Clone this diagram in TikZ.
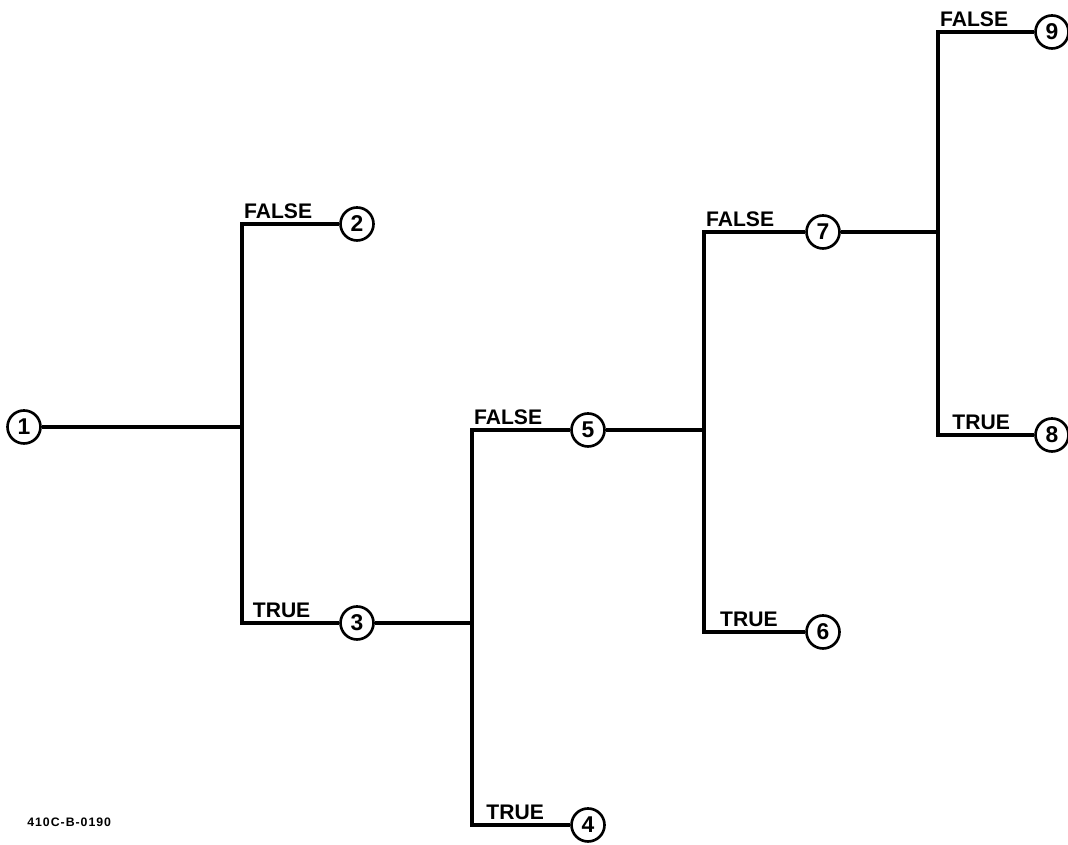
\documentclass[tikz,border=0pt]{standalone}
\usepackage{fontspec}
\setmainfont{Liberation Sans}
\newfontfamily\codefont[LetterSpace=8]{Liberation Sans}
\usetikzlibrary{positioning}

\begin{document}
\begin{tikzpicture}[
  on grid,
  num/.style={draw, circle, line width=1.5pt, minimum size=0.66cm, inner sep=0pt, font=\bfseries\fontsize{13}{13}\selectfont},
  lbl/.style={anchor=south west, inner sep=0pt, font=\bfseries\fontsize{12}{12}\selectfont},
  br/.style={line width=1.8pt}
]
\useasboundingbox (0,0) rectangle (21.36,16.9);
\node[num] (n1) at (0.48,8.36) {1};
\node[num, below right=3.92cm and 6.66cm of n1] (n3) {3};
\node[num, above=7.98cm of n3] (n2) {2};
\node[num, above right=3.86cm and 4.62cm of n3] (n5) {5};
\node[num, below=7.9cm of n5] (n4) {4};
\node[num, above right=3.96cm and 4.7cm of n5] (n7) {7};
\node[num, below=8.0cm of n7] (n6) {6};
\node[num, above right=4.0cm and 4.58cm of n7] (n9) {9};
\node[num, below=8.06cm of n9] (n8) {8};
% junctions
\path (n1) ++(4.36,0) coordinate (j1);
\path (n3) ++(2.3,0) coordinate (j2);
\path (n5) ++(2.32,0) coordinate (j3);
\path (n7) ++(2.3,0) coordinate (j4);
\draw[br] (n1) -- (j1);
\draw[br] (n2) -| (j1) |- (n3);
\draw[br] (n3) -- (j2);
\draw[br] (n5) -| (j2) |- (n4);
\draw[br] (n5) -- (j3);
\draw[br] (n7) -| (j3) |- (n6);
\draw[br] (n7) -- (j4);
\draw[br] (n9) -| (j4) |- (n8);
% labels
\node[lbl] (f1) at ([xshift=1pt, yshift=3pt]n2 -| j1) {FALSE};
\node[lbl] (t1) at ([xshift=6pt, yshift=3pt]n3 -| j1) {TRUE};
\node[lbl] (f2) at ([xshift=1pt, yshift=3pt]n5 -| j2) {FALSE};
\node[lbl] (t2) at ([xshift=8pt, yshift=3pt]n4 -| j2) {TRUE};
\node[lbl] (f3) at ([xshift=1pt, yshift=3pt]n7 -| j3) {FALSE};
\node[lbl] (t3) at ([xshift=9pt, yshift=3pt]n6 -| j3) {TRUE};
\node[lbl] (f4) at ([xshift=1pt, yshift=3pt]n9 -| j4) {FALSE};
\node[lbl] (t4) at ([xshift=8pt, yshift=3pt]n8 -| j4) {TRUE};
\node[anchor=west, inner sep=0pt, font=\codefont\fontsize{7}{7}\selectfont\bfseries] (code) at (0.54,0.46) {410C-B-0190};
\end{tikzpicture}
\end{document}
